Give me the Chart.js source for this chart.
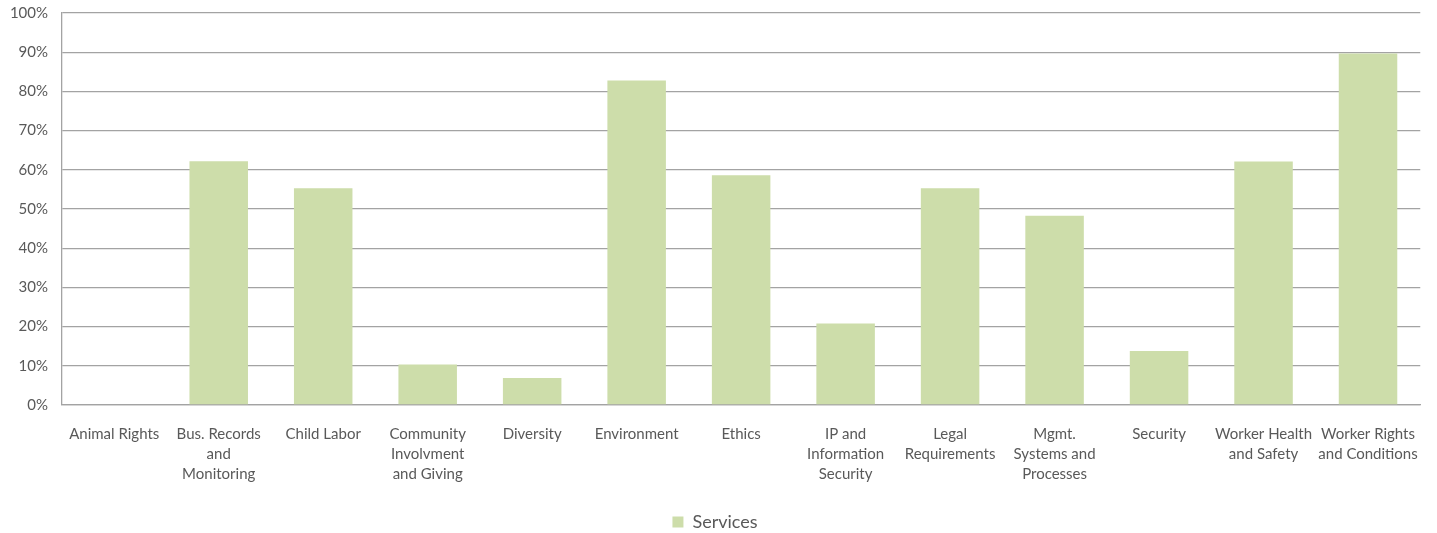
<!DOCTYPE html>
<html>
<head>
<meta charset="utf-8">
<script src="https://cdn.jsdelivr.net/npm/chart.js@4"></script>
<style>
  html, body { margin: 0; padding: 0; background: #fff; }
  #wrap { width: 1437px; height: 533px; position: relative; }
</style>
</head>
<body>
<div id="wrap"><canvas id="chart"></canvas></div>
<script>
// categories, one per bar (multi-line labels as arrays)
const categories = [
    'Animal Rights',
    ['Bus. Records', 'and', 'Monitoring'],
    'Child Labor',
    ['Community', 'Involvment', 'and Giving'],
    'Diversity',
    'Environment',
    'Ethics',
    ['IP and', 'Information', 'Security'],
    ['Legal', 'Requirements'],
    ['Mgmt.', 'Systems and', 'Processes'],
    'Security',
    ['Worker Health', 'and Safety'],
    ['Worker Rights', 'and Conditions']
];

// share of services, percent
const servicesValues = [0, 62.2, 55.3, 10.3, 6.9, 82.8, 58.6, 20.8, 55.3, 48.3, 13.8, 62.1, 89.7];

const yTicks = [0, 10, 20, 30, 40, 50, 60, 70, 80, 90, 100];

const textColor = '#595959';
const gridColor = '#a3a3a3';
const fontFamily = 'Lato, "Open Sans", sans-serif';

new Chart(document.getElementById('chart'), {
    type: 'bar',
    data: {
        labels: categories,
        datasets: [{
            label: 'Services',
            data: servicesValues,
            backgroundColor: 'rgb(205,221,170)',
            borderWidth: 0,
            categoryPercentage: 1,
            barPercentage: 0.56
        }]
    },
    options: {
        responsive: true,
        maintainAspectRatio: false,
        animation: false,
        layout: { padding: { top: 13, right: 7, left: 0, bottom: -8 } },
        plugins: {
            tooltip: { enabled: false },
            legend: {
                position: 'bottom',
                labels: {
                    color: textColor,
                    font: { family: fontFamily, size: 18 },
                    boxWidth: 11,
                    boxHeight: 11,
                    padding: 0
                }
            }
        },
        scales: {
            x: {
                grid: { display: false, drawTicks: false },
                border: { display: true, color: gridColor, width: 1.3 },
                ticks: {
                    color: textColor,
                    font: { family: fontFamily, size: 15, lineHeight: 1.33 },
                    padding: 19,
                    maxRotation: 0,
                    autoSkip: false
                },
                afterFit: s => { s.height = 108; }
            },
            y: {
                min: 0,
                max: 100,
                afterBuildTicks: s => { s.ticks = yTicks.map(v => ({ value: v })); },
                grid: { color: gridColor, lineWidth: 1.3, drawTicks: false },
                border: { display: true, color: gridColor, width: 1.3 },
                ticks: {
                    color: textColor,
                    font: { family: fontFamily, size: 15 },
                    padding: 14,
                    callback: v => v + '%'
                },
                // keep the plot edges where the layout padding puts them
                afterFit: s => { s.width = 62; s.paddingTop = 0; s.paddingBottom = 0; }
            }
        }
    }
});
</script>
</body>
</html>
